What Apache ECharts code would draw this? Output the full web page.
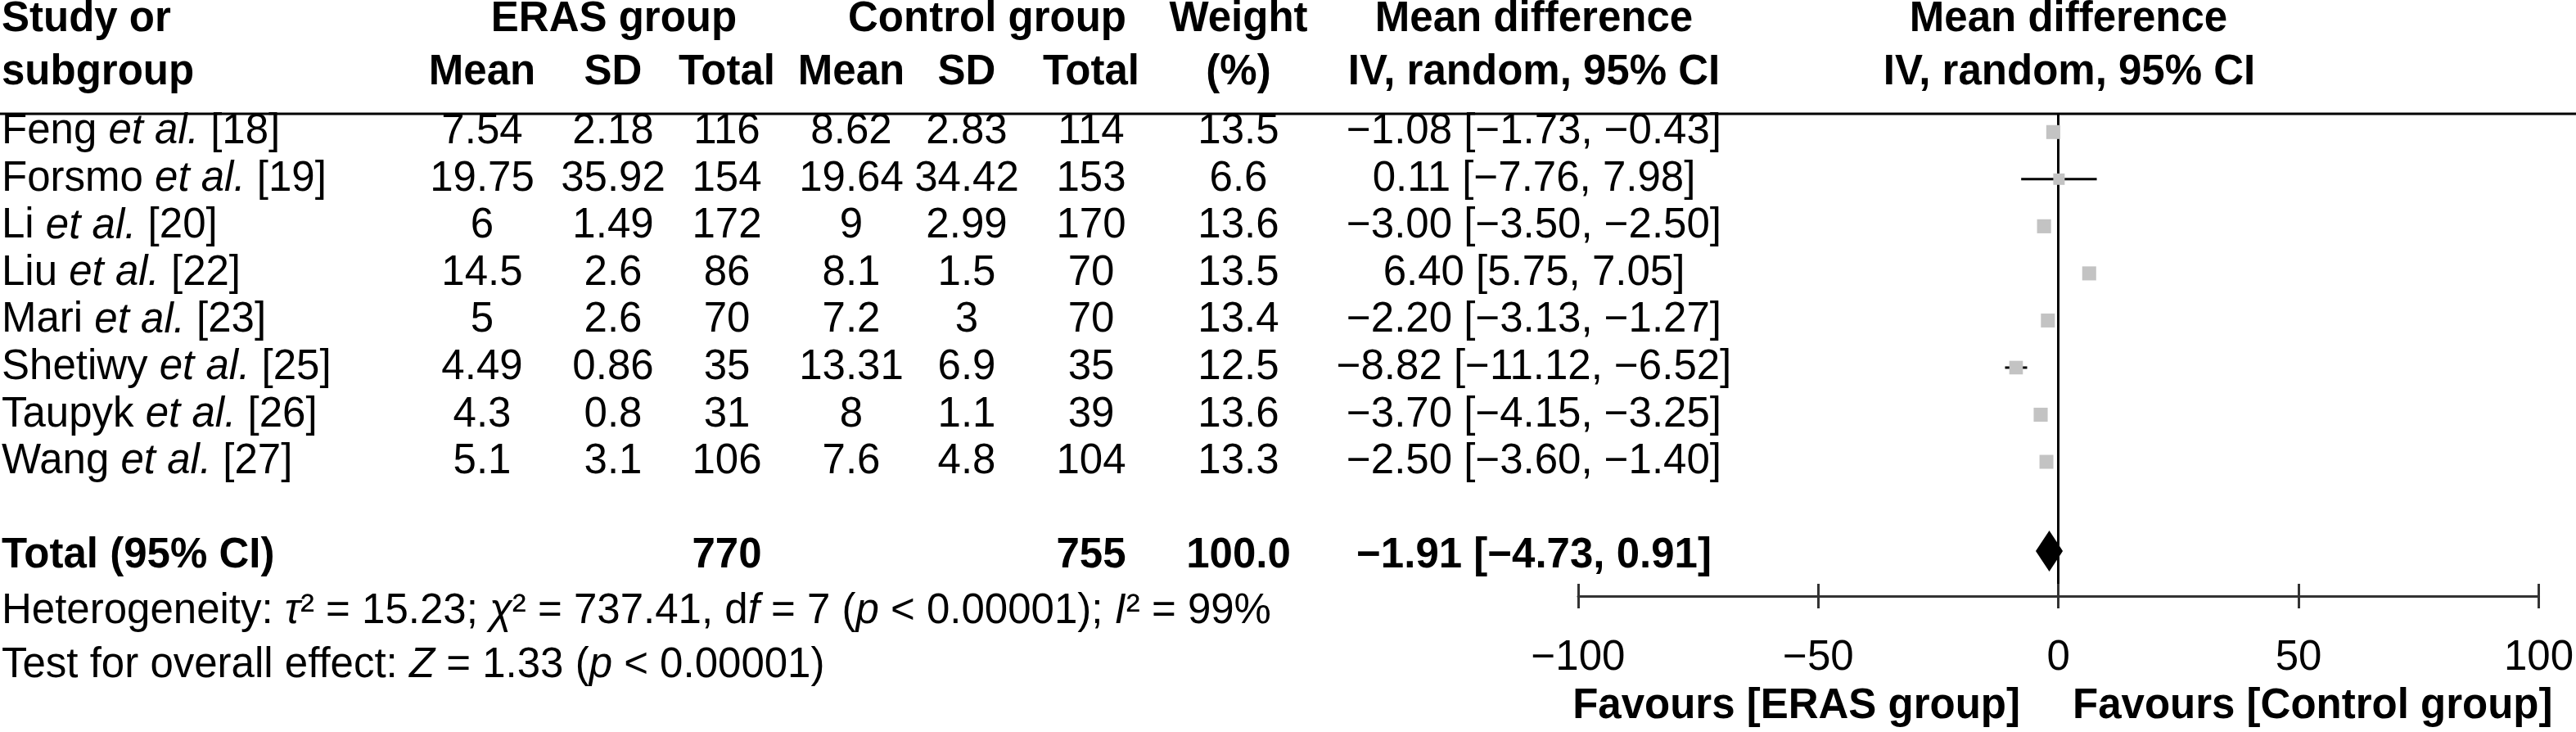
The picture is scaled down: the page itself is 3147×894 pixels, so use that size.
<!DOCTYPE html>
<html><head><meta charset="utf-8">
<script src="https://cdn.jsdelivr.net/npm/echarts@6/dist/echarts.min.js"></script>
<style>html,body{margin:0;padding:0;background:#fff}#c{width:3147px;height:894px}</style>
</head><body><div id="c"></div>
<script>
// ---------- data ----------
const studies   = ['Feng', 'Forsmo', 'Li', 'Liu', 'Mari', 'Shetiwy', 'Taupyk', 'Wang'];
const refs      = [18, 19, 20, 22, 23, 25, 26, 27];
const erasMean  = [7.54, 19.75, 6, 14.5, 5, 4.49, 4.3, 5.1];
const erasSD    = [2.18, 35.92, 1.49, 2.6, 2.6, 0.86, 0.8, 3.1];
const erasN     = [116, 154, 172, 86, 70, 35, 31, 106];
const ctrlMean  = [8.62, 19.64, 9, 8.1, 7.2, 13.31, 8, 7.6];
const ctrlSD    = [2.83, 34.42, 2.99, 1.5, 3, 6.9, 1.1, 4.8];
const ctrlN     = [114, 153, 170, 70, 70, 35, 39, 104];
const weights   = [13.5, 6.6, 13.6, 13.5, 13.4, 12.5, 13.6, 13.3];
const md        = [-1.08, 0.11, -3.00, 6.40, -2.20, -8.82, -3.70, -2.50];
const ciLow     = [-1.73, -7.76, -3.50, 5.75, -3.13, -11.12, -4.15, -3.60];
const ciHigh    = [-0.43, 7.98, -2.50, 7.05, -1.27, -6.52, -3.25, -1.40];
const totalErasN = 770, totalCtrlN = 755, totalWeight = '100.0';
const totalMD = -1.91, totalLow = -4.73, totalHigh = 0.91;
const tau2 = '15.23', chi2 = '737.41', dfVal = 7, hetP = '0.00001', i2 = 99;
const zVal = '1.33', zP = '0.00001';
const xTicks = [-100, -50, 0, 50, 100];
const favourLeft = 'Favours [ERAS group]', favourRight = 'Favours [Control group]';

// ---------- style ----------
const FONT = '"Liberation Sans", Arial, sans-serif';
const FS = 51;
const MINUS = '\u2212';
const f2 = v => (v < 0 ? MINUS : '') + Math.abs(v).toFixed(2);
const fs = v => (v < 0 ? MINUS : '') + String(Math.abs(v));
const TOTAL_ROW = 9;

const numCols = [
  { x: 589, vals: erasMean }, { x: 749, vals: erasSD }, { x: 888, vals: erasN },
  { x: 1040, vals: ctrlMean }, { x: 1181, vals: ctrlSD }, { x: 1333, vals: ctrlN },
  { x: 1513, vals: weights }
];
const MDX = 1874;

function txt(text, x, y, align, bold, extra) {
  return {
    type: 'text',
    style: Object.assign({
      text: text, x: x, y: y, align: align, verticalAlign: 'middle',
      fontSize: FS, fontFamily: FONT, fontWeight: bold ? 'bold' : 'normal', fill: '#000'
    }, extra || {})
  };
}

const chart = echarts.init(document.getElementById('c'), null, { renderer: 'canvas' });

const rowData = studies.map((s, i) => [0, i]);
const itRich = { it: { fontSize: FS, fontFamily: FONT, fontStyle: 'italic', fill: '#000' } };

const option = {
  backgroundColor: '#fff',
  animation: false,
  grid: { left: 1928, right: 40, top: 140, height: 588 },
  xAxis: [
    {
      type: 'value', min: xTicks[0], max: xTicks[xTicks.length - 1], interval: xTicks[1] - xTicks[0], position: 'bottom',
      axisLine: { show: true, onZero: false, lineStyle: { color: '#333', width: 3 } },
      axisTick: { show: true, inside: false, length: 15, lineStyle: { color: '#333', width: 3 } },
      axisLabel: { show: true, margin: 50, fontSize: FS, fontFamily: FONT, color: '#000', formatter: v => fs(v) },
      splitLine: { show: false }
    },
    {
      type: 'value', min: xTicks[0], max: xTicks[xTicks.length - 1], interval: xTicks[1] - xTicks[0], position: 'bottom',
      axisLine: { show: false, onZero: false },
      axisTick: { show: true, inside: true, length: 15, lineStyle: { color: '#333', width: 3 } },
      axisLabel: { show: false }, splitLine: { show: false }
    }
  ],
  yAxis: {
    type: 'value', inverse: true, min: -0.37, max: 9.85,
    axisLine: { show: true, onZero: true, lineStyle: { color: '#000', width: 3 } },
    axisTick: { show: false }, axisLabel: { show: false }, splitLine: { show: false }
  },
  series: [
    { // table rows
      type: 'custom', clip: false, silent: true, data: rowData,
      renderItem: (params, api) => {
        const i = params.dataIndex;
        const y = api.coord([0, api.value(1)])[1];
        const children = [
          txt(`${studies[i]} {it|et al.} [${refs[i]}]`, 2, y, 'left', false, { rich: itRich })
        ];
        numCols.forEach(c => children.push(txt(String(c.vals[i]), c.x, y, 'center', false)));
        children.push(txt(`${f2(md[i])} [${f2(ciLow[i])}, ${f2(ciHigh[i])}]`, MDX, y, 'center', false));
        return { type: 'group', children: children };
      }
    },
    { // total row text
      type: 'custom', clip: false, silent: true, data: [[0, TOTAL_ROW]],
      renderItem: (params, api) => {
        const y = api.coord([0, api.value(1)])[1];
        return { type: 'group', children: [
          txt('Total (95% CI)', 2, y, 'left', true),
          txt(String(totalErasN), numCols[2].x, y, 'center', true),
          txt(String(totalCtrlN), numCols[5].x, y, 'center', true),
          txt(totalWeight, numCols[6].x, y, 'center', true),
          txt(`${f2(totalMD)} [${f2(totalLow)}, ${f2(totalHigh)}]`, MDX, y, 'center', true)
        ] };
      }
    },
    { // study CIs and squares
      type: 'custom', clip: false, data: rowData,
      renderItem: (params, api) => {
        const i = params.dataIndex;
        const r = api.value(1);
        const lo = api.coord([ciLow[i], r]), hi = api.coord([ciHigh[i], r]), c = api.coord([md[i], r]);
        const s = 11 + weights[i] * 0.45;
        return { type: 'group', children: [
          { type: 'line', shape: { x1: lo[0], y1: lo[1], x2: hi[0], y2: hi[1] }, style: { stroke: '#000', lineWidth: 3 } },
          { type: 'rect', shape: { x: c[0] - s / 2, y: c[1] - s / 2, width: s, height: s }, style: { fill: '#c3c3c3' } }
        ] };
      }
    },
    { // pooled diamond
      type: 'custom', clip: false, data: [[totalMD, TOTAL_ROW]],
      renderItem: (params, api) => {
        const r = api.value(1);
        const lo = api.coord([totalLow, r]), hi = api.coord([totalHigh, r]), c = api.coord([totalMD, r]);
        const h = 25, dy = -6;
        return { type: 'polygon', shape: { points: [[lo[0], c[1] + dy], [c[0], c[1] + dy - h], [hi[0], c[1] + dy], [c[0], c[1] + dy + h]] }, style: { fill: '#000' } };
      }
    }
  ],
  graphic: [
    { type: 'line', shape: { x1: 0, y1: 139, x2: 3147, y2: 139 }, style: { stroke: '#000', lineWidth: 3 } },
    txt('Study or', 2, 24, 'left', true),
    txt('subgroup', 2, 89, 'left', true),
    txt('ERAS group', 750, 24, 'center', true),
    txt('Control group', 1206, 24, 'center', true),
    txt('Weight', 1513, 24, 'center', true),
    txt('Mean difference', MDX, 24, 'center', true),
    txt('Mean difference', 2527, 24, 'center', true),
    txt('Mean', 589, 89, 'center', true),
    txt('SD', 749, 89, 'center', true),
    txt('Total', 888, 89, 'center', true),
    txt('Mean', 1040, 89, 'center', true),
    txt('SD', 1181, 89, 'center', true),
    txt('Total', 1333, 89, 'center', true),
    txt('(%)', 1513, 89, 'center', true),
    txt('IV, random, 95% CI', MDX, 89, 'center', true),
    txt('IV, random, 95% CI', 2528, 89, 'center', true),
    txt(`Heterogeneity: {it|\u03c4}\u00b2 = ${tau2}; {it|\u03c7}\u00b2 = ${chi2}, d{it|f} = ${dfVal} ({it|p} < ${hetP}); {it|I}\u00b2 = ${i2}%`, 2, 747, 'left', false, { rich: itRich }),
    txt(`Test for overall effect: {it|Z} = ${zVal} ({it|p} < ${zP})`, 2, 813, 'left', false, { rich: itRich }),
    txt(favourLeft, 2468, 863, 'right', true),
    txt(favourRight, 2532, 863, 'left', true)
  ]
};
chart.setOption(option);
</script>
</body></html>
